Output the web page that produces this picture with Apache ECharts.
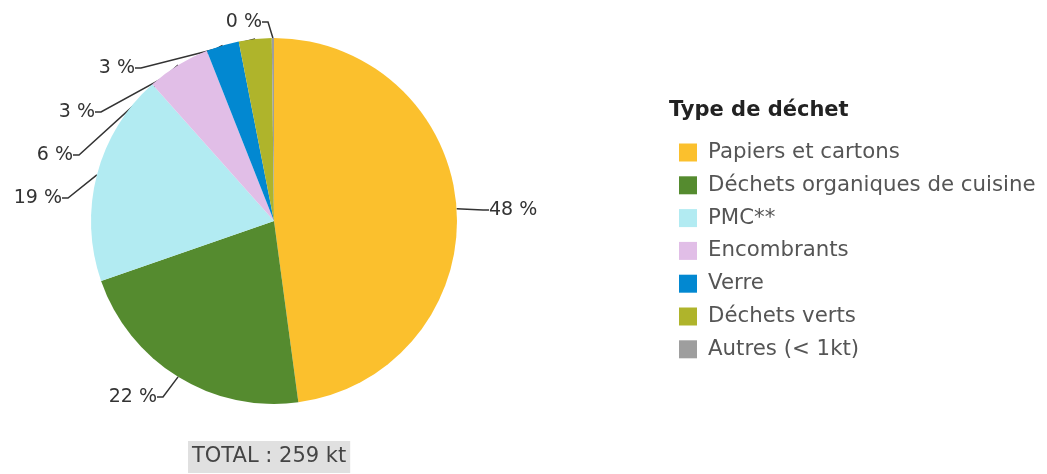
<!DOCTYPE html>
<html>
<head>
<meta charset="utf-8">
<script src="https://cdn.jsdelivr.net/npm/echarts@6/dist/echarts.min.js"></script>
<style>
  html, body { margin: 0; padding: 0; background: #fff; }
  #chart { width: 1047px; height: 474px; }
</style>
</head>
<body>
<div id="chart"></div>
<script>
// données (kt)
var categories = ['Papiers et cartons', 'Déchets organiques de cuisine', 'PMC**', 'Encombrants', 'Verre', 'Déchets verts', 'Autres (< 1kt)'];
var valuesKt = [124, 56.5, 48.5, 14.5, 7.5, 7.5, 0.5];
var colors = ['#FBC02D', '#558B2F', '#B2EBF2', '#E1BEE7', '#0288D1', '#AFB42B', '#9E9E9E'];
var legendTitle = 'Type de déchet';
var totalLabel = 'TOTAL : 259 kt';

var total = valuesKt.reduce(function (a, b) { return a + b; }, 0);

// position des étiquettes (ancre du cadre texte), comme sur l'original
var labelAnchors = [
    { x: 485, y: 210, align: 'left' },
    { x: 161, y: 397, align: 'right' },
    { x: 66, y: 198, align: 'right' },
    { x: 77, y: 155, align: 'right' },
    { x: 99, y: 112, align: 'right' },
    { x: 139, y: 68, align: 'right' },
    { x: 266, y: 22, align: 'right' }
];

var chart = echarts.init(document.getElementById('chart'));

var pieData = categories.map(function (name, i) {
    return { name: name, value: valuesKt[i], itemStyle: { color: colors[i] } };
});

var option = {
    animation: false,
    textStyle: { fontFamily: 'DejaVu Sans' },
    title: {
        text: legendTitle,
        left: 664,
        top: 95,
        textStyle: { fontFamily: 'DejaVu Sans', fontSize: 21, fontWeight: 'bold', color: '#222' }
    },
    legend: {
        orient: 'vertical',
        left: 674,
        top: 137,
        itemWidth: 18,
        itemHeight: 18,
        itemGap: 11.8,
        icon: 'rect',
        selectedMode: false,
        data: categories,
        textStyle: { fontFamily: 'DejaVu Sans', fontSize: 21.3, color: '#555', padding: [0, 0, 0, 6] }
    },
    graphic: [{
        type: 'text',
        left: 188,
        top: 441,
        style: {
            text: totalLabel,
            font: '21px "DejaVu Sans"',
            fill: '#444',
            backgroundColor: '#E0E0E0',
            padding: [5, 4, 6, 4]
        }
    }],
    series: [{
        type: 'pie',
        center: [274, 221],
        radius: 183,
        startAngle: 90,
        clockwise: true,
        data: pieData,
        label: {
            show: true,
            fontFamily: 'DejaVu Sans',
            fontSize: 19,
            color: '#333',
            padding: [0, 4, 0, 4],
            formatter: function (p) {
                return Math.round(p.value / total * 100) + ' %';
            }
        },
        labelLine: {
            show: true,
            length: 20,
            length2: 6,
            lineStyle: { color: '#333', width: 1.5 }
        },
        labelLayout: function (p) {
            var a = labelAnchors[p.dataIndex];
            return { x: a.x, y: a.y, align: a.align, verticalAlign: 'middle' };
        },
        emphasis: { disabled: true }
    }]
};

chart.setOption(option);
window.onresize = function () { chart.resize(); };
</script>
</body>
</html>
